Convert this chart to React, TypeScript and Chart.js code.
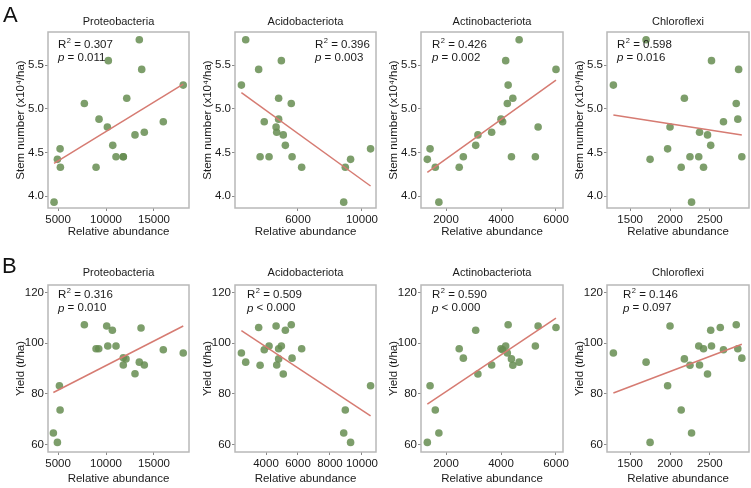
import React, { useEffect, useRef } from 'react';
import { Chart, registerables } from 'chart.js';

Chart.register(...registerables);

const FONT = "'Liberation Sans', Arial, Helvetica, sans-serif";
const TEXT = '#1a1a1a';
const POINT = 'rgba(102,141,81,0.85)';
const LINE = '#d67b72';

// ---------- Data ----------
const phyla = ['Proteobacteria', 'Acidobacteriota', 'Actinobacteriota', 'Chloroflexi'];

const stemTicks = [4.0, 4.5, 5.0, 5.5];
const yieldTicks = [60, 80, 100, 120];
const proteoTicks = [5000, 10000, 15000];
const acidoTicksA = [6000, 10000];
const acidoTicksB = [4000, 6000, 8000, 10000];
const actinoTicks = [2000, 4000, 6000];
const chloroTicks = [1500, 2000, 2500];

// Row A: stem number
const proteoStemX = [13470, 10240, 13720, 18050, 12160, 7740, 9270, 15970, 10140, 13020, 13990, 10700, 5210, 11040, 11800, 11800, 4930, 5240, 8960, 4580];
const proteoStemY = [5.79, 5.55, 5.45, 5.27, 5.12, 5.06, 4.88, 4.85, 4.79, 4.70, 4.73, 4.58, 4.54, 4.45, 4.45, 4.45, 4.42, 4.33, 4.33, 3.93];
const acidoStemX = [2730, 4960, 3540, 2460, 4790, 5580, 4790, 3890, 4630, 4670, 5080, 5210, 10540, 3630, 4190, 5630, 9290, 6230, 8960, 8860];
const acidoStemY = [5.79, 5.55, 5.45, 5.27, 5.12, 5.06, 4.88, 4.85, 4.79, 4.73, 4.70, 4.58, 4.54, 4.45, 4.45, 4.45, 4.42, 4.33, 4.33, 3.93];
const actinoStemX = [4660, 4170, 6000, 4260, 4430, 4230, 4000, 4060, 5350, 3660, 3160, 3080, 1420, 2630, 4380, 5250, 1320, 1610, 2480, 1740];
const actinoStemY = [5.79, 5.55, 5.45, 5.27, 5.12, 5.06, 4.88, 4.85, 4.79, 4.73, 4.70, 4.58, 4.54, 4.45, 4.45, 4.45, 4.42, 4.33, 4.33, 3.93];
const chloroStemX = [1700, 2520, 2860, 1290, 2180, 2830, 2850, 2670, 2000, 2370, 2470, 2510, 1970, 2250, 2360, 2900, 1750, 2140, 2420, 2270];
const chloroStemY = [5.79, 5.55, 5.45, 5.27, 5.12, 5.06, 4.88, 4.85, 4.79, 4.73, 4.70, 4.58, 4.54, 4.45, 4.45, 4.45, 4.42, 4.33, 4.33, 3.93];

// Row B: yield
const proteoYieldX = [7740, 10070, 10660, 13650, 15970, 18050, 8960, 9240, 10180, 11040, 11800, 12080, 13470, 13990, 11800, 13020, 5140, 5210, 4510, 4930];
const proteoYieldY = [107.3, 106.8, 105.1, 106.0, 97.4, 96.1, 97.8, 97.8, 98.9, 98.9, 94.2, 93.8, 92.5, 91.4, 91.4, 87.9, 83.2, 73.6, 64.5, 60.8];
const acidoYieldX = [2460, 2730, 3540, 3630, 3890, 4190, 4630, 4670, 4790, 4790, 4960, 5080, 5210, 5580, 5630, 6230, 8960, 8860, 9290, 10540];
const acidoYieldY = [96.1, 92.5, 106.2, 91.3, 97.4, 98.9, 106.8, 91.4, 97.8, 93.8, 98.9, 87.8, 105.1, 107.3, 94.1, 97.8, 73.6, 64.5, 60.8, 83.2];
const actinoYieldX = [1320, 1420, 1610, 1740, 2480, 2630, 3080, 3160, 3660, 4000, 4060, 4170, 4230, 4260, 4380, 4430, 4660, 5250, 5350, 6000];
const actinoYieldY = [60.8, 83.2, 73.6, 64.5, 97.8, 94.1, 105.1, 87.8, 91.4, 97.8, 97.4, 98.9, 96.1, 107.3, 93.8, 91.3, 92.5, 98.9, 106.8, 106.2];
const chloroYieldX = [1290, 1700, 1750, 1970, 2000, 2140, 2180, 2250, 2270, 2360, 2370, 2420, 2470, 2510, 2520, 2630, 2670, 2830, 2850, 2900];
const chloroYieldY = [96.1, 92.5, 60.8, 83.2, 106.8, 73.6, 93.8, 91.3, 64.5, 98.9, 91.4, 97.8, 87.8, 105.1, 98.9, 106.2, 97.4, 107.3, 97.8, 94.1];

// Fitted lines (endpoints)
const proteoStemLine = [[4580, 4.374], [18050, 5.282]];
const acidoStemLine = [[2460, 5.183], [10540, 4.115]];
const actinoStemLine = [[1320, 4.271], [6000, 5.328]];
const chloroStemLine = [[1290, 4.928], [2900, 4.698]];
const proteoYieldLine = [[4510, 80.5], [18050, 106.8]];
const acidoYieldLine = [[2460, 105.0], [10540, 71.3]];
const actinoYieldLine = [[1320, 75.9], [6000, 109.9]];
const chloroYieldLine = [[1290, 80.3], [2900, 99.6]];

// Stats text
const stemR2 = ['0.307', '0.396', '0.426', '0.598'];
const stemP = ['= 0.011', '= 0.003', '= 0.002', '= 0.016'];
const yieldR2 = ['0.316', '0.509', '0.590', '0.146'];
const yieldP = ['= 0.010', '< 0.000', '< 0.000', '= 0.097'];

// Axis ranges
const xRanges = [[3950, 18650], [2060, 10880], [1090, 6255], [1210, 2990]];
const stemRange = [3.863, 5.878];
const yieldRange = [57, 123];

// ---------- Layout ----------
const COL_L = [48, 235, 421, 607];
const COL_R = [189, 376, 563, 749];
const ROW_T = [32, 285];
const ROW_B = [208, 452];
const Y_AXIS_W = 48;
const X_AXIS_H = 36;
const TOP_PAD = 30;
const RIGHT_PAD = 22;

const panelTextPlugin = {
  id: 'panelText',
  afterDraw(chart: any, _args: any, opts: any) {
    const { ctx, chartArea: ca } = chart;
    ctx.save();
    ctx.strokeStyle = '#b8b8b8';
    ctx.lineWidth = 1.5;
    ctx.strokeRect(ca.left, ca.top, ca.right - ca.left, ca.bottom - ca.top);

    ctx.fillStyle = TEXT;
    ctx.textBaseline = 'middle';
    ctx.textAlign = 'center';
    ctx.font = `11px ${FONT}`;
    ctx.fillText(opts.title, (ca.left + ca.right) / 2, ca.top + opts.titleDy);

    ctx.textAlign = 'left';
    let x = ca.left + opts.annDx;
    const y1 = ca.top + opts.annDy1;
    const y2 = ca.top + opts.annDy2;
    ctx.font = `11.5px ${FONT}`;
    ctx.fillText('R', x, y1);
    x += ctx.measureText('R').width + 0.5;
    ctx.font = `7.5px ${FONT}`;
    ctx.fillText('2', x, y1 - 4);
    x += ctx.measureText('2').width;
    ctx.font = `11.5px ${FONT}`;
    ctx.fillText(' = ' + opts.r2, x, y1);

    let x2 = ca.left + opts.annDx;
    ctx.font = `italic 11.5px ${FONT}`;
    ctx.fillText('p', x2, y2);
    x2 += ctx.measureText('p').width;
    ctx.font = `11.5px ${FONT}`;
    ctx.fillText(' ' + opts.p, x2, y2);
    ctx.restore();
  },
};

type PanelDef = {
  row: number;
  col: number;
  xs: number[];
  ys: number[];
  line: number[][];
  xTicks: number[];
  r2: string;
  p: string;
  annDx: number;
};

const panels: PanelDef[] = [
  { row: 0, col: 0, xs: proteoStemX, ys: proteoStemY, line: proteoStemLine, xTicks: proteoTicks, r2: stemR2[0], p: stemP[0], annDx: 10 },
  { row: 0, col: 1, xs: acidoStemX, ys: acidoStemY, line: acidoStemLine, xTicks: acidoTicksA, r2: stemR2[1], p: stemP[1], annDx: 80 },
  { row: 0, col: 2, xs: actinoStemX, ys: actinoStemY, line: actinoStemLine, xTicks: actinoTicks, r2: stemR2[2], p: stemP[2], annDx: 11 },
  { row: 0, col: 3, xs: chloroStemX, ys: chloroStemY, line: chloroStemLine, xTicks: chloroTicks, r2: stemR2[3], p: stemP[3], annDx: 10 },
  { row: 1, col: 0, xs: proteoYieldX, ys: proteoYieldY, line: proteoYieldLine, xTicks: proteoTicks, r2: yieldR2[0], p: yieldP[0], annDx: 10 },
  { row: 1, col: 1, xs: acidoYieldX, ys: acidoYieldY, line: acidoYieldLine, xTicks: acidoTicksB, r2: yieldR2[1], p: yieldP[1], annDx: 12 },
  { row: 1, col: 2, xs: actinoYieldX, ys: actinoYieldY, line: actinoYieldLine, xTicks: actinoTicks, r2: yieldR2[2], p: yieldP[2], annDx: 11 },
  { row: 1, col: 3, xs: chloroYieldX, ys: chloroYieldY, line: chloroYieldLine, xTicks: chloroTicks, r2: yieldR2[3], p: yieldP[3], annDx: 16 },
];

function Panel({ def }: { def: PanelDef }) {
  const ref = useRef<HTMLCanvasElement>(null);
  const L = COL_L[def.col];
  const R = COL_R[def.col];
  const T = ROW_T[def.row];
  const B = ROW_B[def.row];
  const left = L - Y_AXIS_W;
  const top = T - TOP_PAD;
  const w = R - L + Y_AXIS_W + RIGHT_PAD;
  const h = B - T + TOP_PAD + X_AXIS_H;
  const isA = def.row === 0;

  useEffect(() => {
    if (!ref.current) return;
    const yTicks = isA ? stemTicks : yieldTicks;
    const yRange = isA ? stemRange : yieldRange;
    const xRange = xRanges[def.col];
    const chart = new Chart(ref.current, {
      type: 'scatter',
      data: {
        datasets: [
          {
            type: 'line',
            data: def.line.map(([x, y]) => ({ x, y })),
            borderColor: LINE,
            borderWidth: 1.5,
            pointRadius: 0,
            fill: false,
            order: 0,
          } as any,
          {
            type: 'scatter',
            data: def.xs.map((x, i) => ({ x, y: def.ys[i] })),
            backgroundColor: POINT,
            borderWidth: 0,
            pointRadius: 3.8,
            order: 1,
          },
        ],
      },
      options: {
        responsive: false,
        animation: false,
        events: [],
        layout: { padding: { top: TOP_PAD, right: RIGHT_PAD, left: 0, bottom: 0 } },
        plugins: {
          legend: { display: false },
          tooltip: { enabled: false },
          title: { display: false },
          panelText: {
            title: phyla[def.col],
            titleDy: isA ? -10.3 : -11.7,
            annDx: def.annDx,
            annDy1: isA ? 12.5 : 10,
            annDy2: isA ? 26 : 23.3,
            r2: def.r2,
            p: def.p,
          },
        } as any,
        scales: {
          x: {
            type: 'linear',
            min: xRange[0],
            max: xRange[1],
            afterBuildTicks: (s: any) => {
              s.ticks = def.xTicks.map((v) => ({ value: v }));
            },
            afterFit: (s: any) => {
              s.height = X_AXIS_H;
            },
            grid: { drawOnChartArea: false, drawTicks: true, tickLength: 3, color: '#8a8a8a' },
            border: { display: false },
            ticks: {
              autoSkip: false,
              maxRotation: 0,
              minRotation: 0,
              padding: 2,
              color: TEXT,
              font: { size: 11.5, family: FONT },
              callback: (v: any) => String(v),
            },
            title: {
              display: true,
              text: 'Relative abundance',
              color: TEXT,
              font: { size: 11.5, family: FONT },
              padding: { top: 0, bottom: isA ? 5.4 : 1.8 },
            },
          },
          y: {
            type: 'linear',
            min: yRange[0],
            max: yRange[1],
            afterBuildTicks: (s: any) => {
              s.ticks = yTicks.map((v) => ({ value: v }));
            },
            afterFit: (s: any) => {
              s.width = Y_AXIS_W;
            },
            grid: { drawOnChartArea: false, drawTicks: true, tickLength: 3, color: '#8a8a8a' },
            border: { display: false },
            ticks: {
              autoSkip: false,
              padding: 1,
              color: TEXT,
              font: { size: 11.5, family: FONT },
              callback: (v: any) => (isA ? Number(v).toFixed(1) : String(v)),
            },
            title: {
              display: true,
              text: isA ? 'Stem number (x10\u2074/ha)' : 'Yield (t/ha)',
              color: TEXT,
              font: { size: 11.5, family: FONT },
              padding: { top: 14, bottom: 0 },
            },
          },
        },
      },
      plugins: [panelTextPlugin],
    } as any);
    return () => chart.destroy();
  }, []);

  return (
    <canvas
      ref={ref}
      width={w}
      height={h}
      style={{ position: 'absolute', left, top, width: w, height: h }}
    />
  );
}

export default function App() {
  return (
    <div
      style={{
        position: 'fixed',
        left: 0,
        top: 0,
        width: 751,
        height: 488,
        background: '#ffffff',
        overflow: 'hidden',
        fontFamily: FONT,
      }}
    >
      {panels.map((d, i) => (
        <Panel key={i} def={d} />
      ))}
      <div style={{ position: 'absolute', left: 3, top: 4, fontSize: 22, lineHeight: '22px', color: '#111' }}>A</div>
      <div style={{ position: 'absolute', left: 2, top: 255, fontSize: 22, lineHeight: '22px', color: '#111' }}>B</div>
    </div>
  );
}
